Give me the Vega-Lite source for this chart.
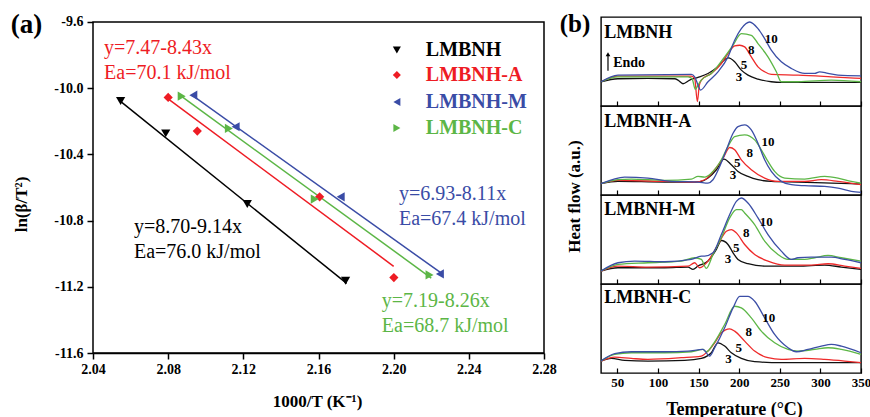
{
  "$schema": "https://vega.github.io/schema/vega-lite/v6.json",
  "padding": {"left": 10, "top": 10, "right": 0, "bottom": 0},
  "background": "white",
  "spacing": 2,
  "config": {
    "view": {"stroke": "#000000", "strokeWidth": 1.4},
    "axis": {"grid": false, "domainColor": "#000000", "tickColor": "#000000", "labelColor": "#000000", "titleColor": "#000000", "labelFont": "Liberation Serif", "titleFont": "Liberation Serif", "labelFontWeight": "bold", "titleFontWeight": "bold", "labelFlush": false, "labelOverlap": false, "labelBound": false},
    "text": {"font": "Liberation Serif"}
  },
  "datasets": {
    "box": [
      {"x": 2.04, "x2": 2.28, "y": -11.6, "y2": -9.6}
    ],
    "fits": [
      {"s": "LMBNH", "x": 2.054, "y": -10.0736}, {"s": "LMBNH", "x": 2.175, "y": -11.1795},
      {"s": "LMBNH-A", "x": 2.080, "y": -10.0644}, {"s": "LMBNH-A", "x": 2.200, "y": -11.076},
      {"s": "LMBNH-M", "x": 2.0927, "y": -10.0418}, {"s": "LMBNH-M", "x": 2.225, "y": -11.1148},
      {"s": "LMBNH-C", "x": 2.0873, "y": -10.0511}, {"s": "LMBNH-C", "x": 2.220, "y": -11.147}
    ],
    "pts": [
      {"s": "LMBNH", "x": 2.0547, "y": -10.078}, {"s": "LMBNH", "x": 2.0787, "y": -10.273}, {"s": "LMBNH", "x": 2.1221, "y": -10.70}, {"s": "LMBNH", "x": 2.1744, "y": -11.164},
      {"s": "LMBNH-A", "x": 2.080, "y": -10.056}, {"s": "LMBNH-A", "x": 2.0955, "y": -10.259}, {"s": "LMBNH-A", "x": 2.1606, "y": -10.656}, {"s": "LMBNH-A", "x": 2.2001, "y": -11.144},
      {"s": "LMBNH-M", "x": 2.0934, "y": -10.042}, {"s": "LMBNH-M", "x": 2.1159, "y": -10.233}, {"s": "LMBNH-M", "x": 2.1718, "y": -10.656}, {"s": "LMBNH-M", "x": 2.2246, "y": -11.122},
      {"s": "LMBNH-C", "x": 2.0872, "y": -10.048}, {"s": "LMBNH-C", "x": 2.1123, "y": -10.243}, {"s": "LMBNH-C", "x": 2.158, "y": -10.67}, {"s": "LMBNH-C", "x": 2.2191, "y": -11.128}
    ],
    "leg": [
      {"s": "LMBNH", "x": 2.2017, "tx": 2.2171, "y": -9.769},
      {"s": "LMBNH-A", "x": 2.2017, "tx": 2.2171, "y": -9.920},
      {"s": "LMBNH-M", "x": 2.2017, "tx": 2.2171, "y": -10.083},
      {"s": "LMBNH-C", "x": 2.2017, "tx": 2.2171, "y": -10.240}
    ],
    "ann": [
      {"s": "LMBNH-A", "x": 2.0459, "y": -9.757, "t": "y=7.47-8.43x"},
      {"s": "LMBNH-A", "x": 2.0459, "y": -9.908, "t": "Ea=70.1 kJ/mol"},
      {"s": "LMBNH", "x": 2.0618, "y": -10.837, "t": "y=8.70-9.14x"},
      {"s": "LMBNH", "x": 2.0618, "y": -10.988, "t": "Ea=76.0 kJ/mol"},
      {"s": "LMBNH-M", "x": 2.2028, "y": -10.638, "t": "y=6.93-8.11x"},
      {"s": "LMBNH-M", "x": 2.2028, "y": -10.789, "t": "Ea=67.4 kJ/mol"},
      {"s": "LMBNH-C", "x": 2.1937, "y": -11.283, "t": "y=7.19-8.26x"},
      {"s": "LMBNH-C", "x": 2.1937, "y": -11.434, "t": "Ea=68.7 kJ/mol"}
    ],
    "dsc": [
      {"panel":"LMBNH","rate":"3","T":30,"v":73},{"panel":"LMBNH","rate":"3","T":50.9,"v":82},{"panel":"LMBNH","rate":"3","T":87.8,"v":83},{"panel":"LMBNH","rate":"3","T":120.7,"v":82},{"panel":"LMBNH","rate":"3","T":124.8,"v":78},{"panel":"LMBNH","rate":"3","T":130.9,"v":67},{"panel":"LMBNH","rate":"3","T":139.1,"v":78},{"panel":"LMBNH","rate":"3","T":149.4,"v":86},{"panel":"LMBNH","rate":"3","T":161.7,"v":98},{"panel":"LMBNH","rate":"3","T":174,"v":118},{"panel":"LMBNH","rate":"3","T":184.3,"v":143},{"panel":"LMBNH","rate":"3","T":187.1,"v":145},{"panel":"LMBNH","rate":"3","T":194.5,"v":133},{"panel":"LMBNH","rate":"3","T":202.7,"v":108},{"panel":"LMBNH","rate":"3","T":210.9,"v":93},{"panel":"LMBNH","rate":"3","T":223.2,"v":81},{"panel":"LMBNH","rate":"3","T":239.6,"v":73},{"panel":"LMBNH","rate":"3","T":251.9,"v":71},{"panel":"LMBNH","rate":"3","T":300,"v":71},{"panel":"LMBNH","rate":"3","T":350,"v":71},
      {"panel":"LMBNH","rate":"5","T":30,"v":73},{"panel":"LMBNH","rate":"5","T":50.9,"v":90},{"panel":"LMBNH","rate":"5","T":100,"v":90},{"panel":"LMBNH","rate":"5","T":141.2,"v":90},{"panel":"LMBNH","rate":"5","T":145.3,"v":83},{"panel":"LMBNH","rate":"5","T":148.6,"v":13},{"panel":"LMBNH","rate":"5","T":151,"v":63},{"panel":"LMBNH","rate":"5","T":153.5,"v":78},{"panel":"LMBNH","rate":"5","T":165.8,"v":98},{"panel":"LMBNH","rate":"5","T":178.1,"v":128},{"panel":"LMBNH","rate":"5","T":186.3,"v":158},{"panel":"LMBNH","rate":"5","T":194.5,"v":181},{"panel":"LMBNH","rate":"5","T":200.7,"v":183},{"panel":"LMBNH","rate":"5","T":206.8,"v":178},{"panel":"LMBNH","rate":"5","T":215,"v":148},{"panel":"LMBNH","rate":"5","T":223.2,"v":118},{"panel":"LMBNH","rate":"5","T":231.4,"v":103},{"panel":"LMBNH","rate":"5","T":239.6,"v":95},{"panel":"LMBNH","rate":"5","T":272.5,"v":93},{"panel":"LMBNH","rate":"5","T":313.5,"v":88},{"panel":"LMBNH","rate":"5","T":350,"v":83},
      {"panel":"LMBNH","rate":"8","T":30,"v":73},{"panel":"LMBNH","rate":"8","T":50.9,"v":88},{"panel":"LMBNH","rate":"8","T":137.1,"v":88},{"panel":"LMBNH","rate":"8","T":142,"v":83},{"panel":"LMBNH","rate":"8","T":146.1,"v":50},{"panel":"LMBNH","rate":"8","T":149.4,"v":63},{"panel":"LMBNH","rate":"8","T":153.5,"v":78},{"panel":"LMBNH","rate":"8","T":165.8,"v":98},{"panel":"LMBNH","rate":"8","T":182.2,"v":148},{"panel":"LMBNH","rate":"8","T":192.5,"v":183},{"panel":"LMBNH","rate":"8","T":202.7,"v":218},{"panel":"LMBNH","rate":"8","T":215,"v":213},{"panel":"LMBNH","rate":"8","T":223.2,"v":188},{"panel":"LMBNH","rate":"8","T":235.5,"v":148},{"panel":"LMBNH","rate":"8","T":245.8,"v":103},{"panel":"LMBNH","rate":"8","T":251.9,"v":73},{"panel":"LMBNH","rate":"8","T":272.5,"v":73},{"panel":"LMBNH","rate":"8","T":313.5,"v":78},{"panel":"LMBNH","rate":"8","T":350,"v":73},
      {"panel":"LMBNH","rate":"10","T":30,"v":73},{"panel":"LMBNH","rate":"10","T":50.9,"v":93},{"panel":"LMBNH","rate":"10","T":141.2,"v":95},{"panel":"LMBNH","rate":"10","T":145.3,"v":88},{"panel":"LMBNH","rate":"10","T":149.4,"v":63},{"panel":"LMBNH","rate":"10","T":152.5,"v":48},{"panel":"LMBNH","rate":"10","T":161.7,"v":73},{"panel":"LMBNH","rate":"10","T":174,"v":103},{"panel":"LMBNH","rate":"10","T":186.3,"v":148},{"panel":"LMBNH","rate":"10","T":194.5,"v":198},{"panel":"LMBNH","rate":"10","T":202.7,"v":233},{"panel":"LMBNH","rate":"10","T":213,"v":253},{"panel":"LMBNH","rate":"10","T":223.2,"v":233},{"panel":"LMBNH","rate":"10","T":231.4,"v":203},{"panel":"LMBNH","rate":"10","T":239.6,"v":168},{"panel":"LMBNH","rate":"10","T":251.9,"v":133},{"panel":"LMBNH","rate":"10","T":264.3,"v":113},{"panel":"LMBNH","rate":"10","T":280.7,"v":98},{"panel":"LMBNH","rate":"10","T":293,"v":98},{"panel":"LMBNH","rate":"10","T":299.1,"v":103},{"panel":"LMBNH","rate":"10","T":309.4,"v":98},{"panel":"LMBNH","rate":"10","T":321.7,"v":93},{"panel":"LMBNH","rate":"10","T":350,"v":91},

      {"panel":"LMBNH-A","rate":"3","T":30,"v":34},{"panel":"LMBNH-A","rate":"3","T":50.9,"v":41},{"panel":"LMBNH-A","rate":"3","T":108.4,"v":39},{"panel":"LMBNH-A","rate":"3","T":145.3,"v":39},{"panel":"LMBNH-A","rate":"3","T":153.5,"v":41},{"panel":"LMBNH-A","rate":"3","T":161.7,"v":51},{"panel":"LMBNH-A","rate":"3","T":172,"v":76},{"panel":"LMBNH-A","rate":"3","T":181.4,"v":108},{"panel":"LMBNH-A","rate":"3","T":190.4,"v":91},{"panel":"LMBNH-A","rate":"3","T":198.6,"v":71},{"panel":"LMBNH-A","rate":"3","T":210.9,"v":56},{"panel":"LMBNH-A","rate":"3","T":223.2,"v":46},{"panel":"LMBNH-A","rate":"3","T":239.6,"v":41},{"panel":"LMBNH-A","rate":"3","T":272.5,"v":39},{"panel":"LMBNH-A","rate":"3","T":313.5,"v":36},{"panel":"LMBNH-A","rate":"3","T":350,"v":33},
      {"panel":"LMBNH-A","rate":"5","T":30,"v":34},{"panel":"LMBNH-A","rate":"5","T":50.9,"v":44},{"panel":"LMBNH-A","rate":"5","T":108.4,"v":41},{"panel":"LMBNH-A","rate":"5","T":145.3,"v":39},{"panel":"LMBNH-A","rate":"5","T":157.6,"v":46},{"panel":"LMBNH-A","rate":"5","T":169.9,"v":76},{"panel":"LMBNH-A","rate":"5","T":180.2,"v":111},{"panel":"LMBNH-A","rate":"5","T":188.4,"v":143},{"panel":"LMBNH-A","rate":"5","T":194.5,"v":136},{"panel":"LMBNH-A","rate":"5","T":202.7,"v":106},{"panel":"LMBNH-A","rate":"5","T":215,"v":76},{"panel":"LMBNH-A","rate":"5","T":231.4,"v":51},{"panel":"LMBNH-A","rate":"5","T":247.8,"v":41},{"panel":"LMBNH-A","rate":"5","T":280.7,"v":41},{"panel":"LMBNH-A","rate":"5","T":301.2,"v":46},{"panel":"LMBNH-A","rate":"5","T":321.7,"v":41},{"panel":"LMBNH-A","rate":"5","T":350,"v":31},
      {"panel":"LMBNH-A","rate":"8","T":30,"v":34},{"panel":"LMBNH-A","rate":"8","T":50.9,"v":46},{"panel":"LMBNH-A","rate":"8","T":67.3,"v":48},{"panel":"LMBNH-A","rate":"8","T":108.4,"v":44},{"panel":"LMBNH-A","rate":"8","T":141.2,"v":48},{"panel":"LMBNH-A","rate":"8","T":149.4,"v":56},{"panel":"LMBNH-A","rate":"8","T":157.6,"v":54},{"panel":"LMBNH-A","rate":"8","T":165.8,"v":66},{"panel":"LMBNH-A","rate":"8","T":178.1,"v":106},{"panel":"LMBNH-A","rate":"8","T":186.3,"v":146},{"panel":"LMBNH-A","rate":"8","T":194.5,"v":176},{"panel":"LMBNH-A","rate":"8","T":206.8,"v":181},{"panel":"LMBNH-A","rate":"8","T":219.1,"v":166},{"panel":"LMBNH-A","rate":"8","T":227.3,"v":136},{"panel":"LMBNH-A","rate":"8","T":235.5,"v":101},{"panel":"LMBNH-A","rate":"8","T":243.7,"v":71},{"panel":"LMBNH-A","rate":"8","T":256.1,"v":51},{"panel":"LMBNH-A","rate":"8","T":280.7,"v":48},{"panel":"LMBNH-A","rate":"8","T":305.3,"v":56},{"panel":"LMBNH-A","rate":"8","T":321.7,"v":51},{"panel":"LMBNH-A","rate":"8","T":338.1,"v":41},{"panel":"LMBNH-A","rate":"8","T":350,"v":36},
      {"panel":"LMBNH-A","rate":"10","T":30,"v":34},{"panel":"LMBNH-A","rate":"10","T":59.1,"v":54},{"panel":"LMBNH-A","rate":"10","T":87.8,"v":51},{"panel":"LMBNH-A","rate":"10","T":116.6,"v":41},{"panel":"LMBNH-A","rate":"10","T":149.4,"v":39},{"panel":"LMBNH-A","rate":"10","T":161.7,"v":36},{"panel":"LMBNH-A","rate":"10","T":167.8,"v":46},{"panel":"LMBNH-A","rate":"10","T":176.1,"v":86},{"panel":"LMBNH-A","rate":"10","T":184.3,"v":136},{"panel":"LMBNH-A","rate":"10","T":192.5,"v":186},{"panel":"LMBNH-A","rate":"10","T":198.6,"v":206},{"panel":"LMBNH-A","rate":"10","T":206.8,"v":211},{"panel":"LMBNH-A","rate":"10","T":215,"v":196},{"panel":"LMBNH-A","rate":"10","T":223.2,"v":156},{"panel":"LMBNH-A","rate":"10","T":231.4,"v":106},{"panel":"LMBNH-A","rate":"10","T":239.6,"v":71},{"panel":"LMBNH-A","rate":"10","T":251.9,"v":41},{"panel":"LMBNH-A","rate":"10","T":264.3,"v":31},{"panel":"LMBNH-A","rate":"10","T":280.7,"v":28},{"panel":"LMBNH-A","rate":"10","T":305.3,"v":26},{"panel":"LMBNH-A","rate":"10","T":321.7,"v":21},{"panel":"LMBNH-A","rate":"10","T":338.1,"v":11},{"panel":"LMBNH-A","rate":"10","T":350,"v":8},

      {"panel":"LMBNH-M","rate":"3","T":30,"v":39},{"panel":"LMBNH-M","rate":"3","T":50.9,"v":49},{"panel":"LMBNH-M","rate":"3","T":108.4,"v":49},{"panel":"LMBNH-M","rate":"3","T":137.1,"v":51},{"panel":"LMBNH-M","rate":"3","T":143.2,"v":44},{"panel":"LMBNH-M","rate":"3","T":149.4,"v":54},{"panel":"LMBNH-M","rate":"3","T":161.7,"v":69},{"panel":"LMBNH-M","rate":"3","T":172,"v":104},{"panel":"LMBNH-M","rate":"3","T":178.1,"v":131},{"panel":"LMBNH-M","rate":"3","T":186.3,"v":119},{"panel":"LMBNH-M","rate":"3","T":192.5,"v":94},{"panel":"LMBNH-M","rate":"3","T":198.6,"v":74},{"panel":"LMBNH-M","rate":"3","T":210.9,"v":61},{"panel":"LMBNH-M","rate":"3","T":231.4,"v":54},{"panel":"LMBNH-M","rate":"3","T":272.5,"v":54},{"panel":"LMBNH-M","rate":"3","T":305.3,"v":57},{"panel":"LMBNH-M","rate":"3","T":325.8,"v":51},{"panel":"LMBNH-M","rate":"3","T":350,"v":44},
      {"panel":"LMBNH-M","rate":"5","T":30,"v":39},{"panel":"LMBNH-M","rate":"5","T":50.9,"v":54},{"panel":"LMBNH-M","rate":"5","T":87.8,"v":51},{"panel":"LMBNH-M","rate":"5","T":137.1,"v":54},{"panel":"LMBNH-M","rate":"5","T":145.3,"v":64},{"panel":"LMBNH-M","rate":"5","T":151.4,"v":49},{"panel":"LMBNH-M","rate":"5","T":161.7,"v":69},{"panel":"LMBNH-M","rate":"5","T":174,"v":119},{"panel":"LMBNH-M","rate":"5","T":184.3,"v":159},{"panel":"LMBNH-M","rate":"5","T":190.4,"v":164},{"panel":"LMBNH-M","rate":"5","T":196.6,"v":154},{"panel":"LMBNH-M","rate":"5","T":206.8,"v":119},{"panel":"LMBNH-M","rate":"5","T":219.1,"v":89},{"panel":"LMBNH-M","rate":"5","T":235.5,"v":69},{"panel":"LMBNH-M","rate":"5","T":256.1,"v":57},{"panel":"LMBNH-M","rate":"5","T":288.9,"v":57},{"panel":"LMBNH-M","rate":"5","T":309.4,"v":61},{"panel":"LMBNH-M","rate":"5","T":329.9,"v":54},{"panel":"LMBNH-M","rate":"5","T":350,"v":47},
      {"panel":"LMBNH-M","rate":"8","T":30,"v":39},{"panel":"LMBNH-M","rate":"8","T":50.9,"v":59},{"panel":"LMBNH-M","rate":"8","T":87.8,"v":64},{"panel":"LMBNH-M","rate":"8","T":128.9,"v":69},{"panel":"LMBNH-M","rate":"8","T":145.3,"v":79},{"panel":"LMBNH-M","rate":"8","T":153.5,"v":74},{"panel":"LMBNH-M","rate":"8","T":159.6,"v":47},{"panel":"LMBNH-M","rate":"8","T":167.8,"v":89},{"panel":"LMBNH-M","rate":"8","T":178.1,"v":139},{"panel":"LMBNH-M","rate":"8","T":188.4,"v":199},{"panel":"LMBNH-M","rate":"8","T":196.6,"v":224},{"panel":"LMBNH-M","rate":"8","T":202.7,"v":224},{"panel":"LMBNH-M","rate":"8","T":206.8,"v":214},{"panel":"LMBNH-M","rate":"8","T":219.1,"v":179},{"panel":"LMBNH-M","rate":"8","T":231.4,"v":129},{"panel":"LMBNH-M","rate":"8","T":247.8,"v":89},{"panel":"LMBNH-M","rate":"8","T":260.2,"v":74},{"panel":"LMBNH-M","rate":"8","T":280.7,"v":74},{"panel":"LMBNH-M","rate":"8","T":293,"v":79},{"panel":"LMBNH-M","rate":"8","T":309.4,"v":86},{"panel":"LMBNH-M","rate":"8","T":325.8,"v":79},{"panel":"LMBNH-M","rate":"8","T":350,"v":69},
      {"panel":"LMBNH-M","rate":"10","T":30,"v":39},{"panel":"LMBNH-M","rate":"10","T":50.9,"v":64},{"panel":"LMBNH-M","rate":"10","T":71.4,"v":69},{"panel":"LMBNH-M","rate":"10","T":108.4,"v":67},{"panel":"LMBNH-M","rate":"10","T":141.2,"v":74},{"panel":"LMBNH-M","rate":"10","T":153.5,"v":84},{"panel":"LMBNH-M","rate":"10","T":157.6,"v":84},{"panel":"LMBNH-M","rate":"10","T":167.8,"v":94},{"panel":"LMBNH-M","rate":"10","T":178.1,"v":149},{"panel":"LMBNH-M","rate":"10","T":188.4,"v":209},{"panel":"LMBNH-M","rate":"10","T":196.6,"v":249},{"panel":"LMBNH-M","rate":"10","T":202.7,"v":259},{"panel":"LMBNH-M","rate":"10","T":210.9,"v":244},{"panel":"LMBNH-M","rate":"10","T":223.2,"v":199},{"panel":"LMBNH-M","rate":"10","T":235.5,"v":149},{"panel":"LMBNH-M","rate":"10","T":251.9,"v":99},{"panel":"LMBNH-M","rate":"10","T":264.3,"v":74},{"panel":"LMBNH-M","rate":"10","T":272.5,"v":79},{"panel":"LMBNH-M","rate":"10","T":288.9,"v":81},{"panel":"LMBNH-M","rate":"10","T":313.5,"v":81},{"panel":"LMBNH-M","rate":"10","T":329.9,"v":74},{"panel":"LMBNH-M","rate":"10","T":350,"v":64},

      {"panel":"LMBNH-C","rate":"3","T":30,"v":36},{"panel":"LMBNH-C","rate":"3","T":42.7,"v":44},{"panel":"LMBNH-C","rate":"3","T":59.1,"v":38},{"panel":"LMBNH-C","rate":"3","T":87.8,"v":36},{"panel":"LMBNH-C","rate":"3","T":133,"v":38},{"panel":"LMBNH-C","rate":"3","T":153.5,"v":44},{"panel":"LMBNH-C","rate":"3","T":165.8,"v":61},{"panel":"LMBNH-C","rate":"3","T":174,"v":91},{"panel":"LMBNH-C","rate":"3","T":182.2,"v":81},{"panel":"LMBNH-C","rate":"3","T":190.4,"v":61},{"panel":"LMBNH-C","rate":"3","T":202.7,"v":44},{"panel":"LMBNH-C","rate":"3","T":219.1,"v":34},{"panel":"LMBNH-C","rate":"3","T":251.9,"v":31},{"panel":"LMBNH-C","rate":"3","T":313.5,"v":31},{"panel":"LMBNH-C","rate":"3","T":350,"v":31},
      {"panel":"LMBNH-C","rate":"5","T":30,"v":36},{"panel":"LMBNH-C","rate":"5","T":46.8,"v":48},{"panel":"LMBNH-C","rate":"5","T":67.3,"v":44},{"panel":"LMBNH-C","rate":"5","T":87.8,"v":41},{"panel":"LMBNH-C","rate":"5","T":128.9,"v":46},{"panel":"LMBNH-C","rate":"5","T":153.5,"v":51},{"panel":"LMBNH-C","rate":"5","T":161.7,"v":66},{"panel":"LMBNH-C","rate":"5","T":169.9,"v":91},{"panel":"LMBNH-C","rate":"5","T":178.1,"v":121},{"panel":"LMBNH-C","rate":"5","T":188.4,"v":133},{"panel":"LMBNH-C","rate":"5","T":194.5,"v":126},{"panel":"LMBNH-C","rate":"5","T":206.8,"v":96},{"panel":"LMBNH-C","rate":"5","T":219.1,"v":66},{"panel":"LMBNH-C","rate":"5","T":235.5,"v":46},{"panel":"LMBNH-C","rate":"5","T":251.9,"v":41},{"panel":"LMBNH-C","rate":"5","T":280.7,"v":44},{"panel":"LMBNH-C","rate":"5","T":305.3,"v":41},{"panel":"LMBNH-C","rate":"5","T":329.9,"v":36},{"panel":"LMBNH-C","rate":"5","T":350,"v":31},
      {"panel":"LMBNH-C","rate":"8","T":30,"v":36},{"panel":"LMBNH-C","rate":"8","T":46.8,"v":56},{"panel":"LMBNH-C","rate":"8","T":67.3,"v":61},{"panel":"LMBNH-C","rate":"8","T":108.4,"v":61},{"panel":"LMBNH-C","rate":"8","T":141.2,"v":64},{"panel":"LMBNH-C","rate":"8","T":155.5,"v":71},{"panel":"LMBNH-C","rate":"8","T":159.6,"v":64},{"panel":"LMBNH-C","rate":"8","T":167.8,"v":86},{"panel":"LMBNH-C","rate":"8","T":182.2,"v":146},{"panel":"LMBNH-C","rate":"8","T":194.5,"v":201},{"panel":"LMBNH-C","rate":"8","T":202.7,"v":196},{"panel":"LMBNH-C","rate":"8","T":215,"v":166},{"panel":"LMBNH-C","rate":"8","T":227.3,"v":126},{"panel":"LMBNH-C","rate":"8","T":243.7,"v":91},{"panel":"LMBNH-C","rate":"8","T":260.2,"v":71},{"panel":"LMBNH-C","rate":"8","T":272.5,"v":66},{"panel":"LMBNH-C","rate":"8","T":293,"v":71},{"panel":"LMBNH-C","rate":"8","T":309.4,"v":76},{"panel":"LMBNH-C","rate":"8","T":325.8,"v":71},{"panel":"LMBNH-C","rate":"8","T":350,"v":56},
      {"panel":"LMBNH-C","rate":"10","T":30,"v":36},{"panel":"LMBNH-C","rate":"10","T":46.8,"v":58},{"panel":"LMBNH-C","rate":"10","T":67.3,"v":64},{"panel":"LMBNH-C","rate":"10","T":108.4,"v":64},{"panel":"LMBNH-C","rate":"10","T":137.1,"v":66},{"panel":"LMBNH-C","rate":"10","T":155.5,"v":71},{"panel":"LMBNH-C","rate":"10","T":163.7,"v":51},{"panel":"LMBNH-C","rate":"10","T":169.9,"v":76},{"panel":"LMBNH-C","rate":"10","T":182.2,"v":136},{"panel":"LMBNH-C","rate":"10","T":192.5,"v":196},{"panel":"LMBNH-C","rate":"10","T":200.7,"v":231},{"panel":"LMBNH-C","rate":"10","T":210.9,"v":231},{"panel":"LMBNH-C","rate":"10","T":219.1,"v":216},{"panel":"LMBNH-C","rate":"10","T":231.4,"v":166},{"panel":"LMBNH-C","rate":"10","T":243.7,"v":116},{"panel":"LMBNH-C","rate":"10","T":260.2,"v":76},{"panel":"LMBNH-C","rate":"10","T":270.4,"v":64},{"panel":"LMBNH-C","rate":"10","T":284.8,"v":71},{"panel":"LMBNH-C","rate":"10","T":301.2,"v":81},{"panel":"LMBNH-C","rate":"10","T":313.5,"v":86},{"panel":"LMBNH-C","rate":"10","T":325.8,"v":81},{"panel":"LMBNH-C","rate":"10","T":350,"v":61}
    ],
    "nums": [
      {"panel":"LMBNH","t":"10","T":239.6,"v":203},{"panel":"LMBNH","t":"8","T":215,"v":168},{"panel":"LMBNH","t":"5","T":206,"v":123},{"panel":"LMBNH","t":"3","T":199.8,"v":88},
      {"panel":"LMBNH-A","t":"10","T":235.5,"v":161},{"panel":"LMBNH-A","t":"8","T":213,"v":126},{"panel":"LMBNH-A","t":"5","T":197.8,"v":96},{"panel":"LMBNH-A","t":"3","T":192.5,"v":61},
      {"panel":"LMBNH-M","t":"10","T":233.5,"v":187},{"panel":"LMBNH-M","t":"8","T":208.9,"v":154},{"panel":"LMBNH-M","t":"5","T":196.6,"v":109},{"panel":"LMBNH-M","t":"3","T":186.3,"v":74},
      {"panel":"LMBNH-C","t":"10","T":236.4,"v":166},{"panel":"LMBNH-C","t":"8","T":211.7,"v":124},{"panel":"LMBNH-C","t":"5","T":199.4,"v":76},{"panel":"LMBNH-C","t":"3","T":187,"v":41}
    ],
    "titles": [
      {"panel":"LMBNH","t":"LMBNH","T":34,"v":221},
      {"panel":"LMBNH-A","t":"LMBNH-A","T":34,"v":221},
      {"panel":"LMBNH-M","t":"LMBNH-M","T":34,"v":224},
      {"panel":"LMBNH-C","t":"LMBNH-C","T":34,"v":226}
    ]
  },
  "hconcat": [
    {
      "width": 451,
      "height": 336,
      "view": {"stroke": "transparent"},
      "layer": [
        {
          "data": {"name": "fits"},
          "mark": {"type": "line", "strokeWidth": 1.5},
          "encoding": {
            "x": {"field": "x", "type": "quantitative", "scale": {"domain": [2.04, 2.28], "nice": false, "zero": false},
              "axis": {"values": [2.04, 2.06, 2.08, 2.10, 2.12, 2.14, 2.16, 2.18, 2.20, 2.22, 2.24, 2.26, 2.28],
                "labelExpr": "round(datum.value*100) % 4 == 0 ? format(datum.value, '.2f') : ''",
                "tickSize": {"condition": {"test": "round(datum.value*100) % 4 == 0", "value": 6}, "value": 4},
                "tickWidth": 1.5, "domainWidth": 1.5, "labelFontSize": 14, "labelPadding": 3,
                "title": "1000/T (K⁻¹)", "titleFontSize": 17, "titleX": 224, "titleY": 48, "titleBaseline": "middle", "titleAlign": "center"}},
            "y": {"field": "y", "type": "quantitative", "scale": {"domain": [-11.6, -9.5698], "nice": false, "zero": false},
              "axis": {"values": [-11.6, -11.4, -11.2, -11.0, -10.8, -10.6, -10.4, -10.2, -10.0, -9.8, -9.6],
                "labelExpr": "round(datum.value*10) % 4 == 0 ? replace(format(datum.value, '.1f'), '−', '-') : ''",
                "tickSize": {"condition": {"test": "round(datum.value*10) % 4 == 0", "value": 6}, "value": 4},
                "tickWidth": 1.5, "domain": false, "labelFontSize": 14, "labelPadding": 4,
                "title": "ln(β/T²)", "titleFontSize": 17, "titleX": -72, "titleY": 187, "titleAngle": -90, "titleBaseline": "middle", "titleAlign": "center"}},
            "color": {"field": "s", "type": "nominal", "scale": {"domain": ["LMBNH", "LMBNH-A", "LMBNH-M", "LMBNH-C", "3", "5", "8", "10"], "range": ["#000000", "#ee1c24", "#3a4ca6", "#5cb646", "#111111", "#ee2a2a", "#5cb646", "#3b4ea6"]}, "legend": null},
            "detail": {"field": "s"}
          }
        },
        {
          "data": {"name": "pts"},
          "mark": {"type": "point", "filled": true, "size": 85, "opacity": 1},
          "encoding": {
            "x": {"field": "x", "type": "quantitative"},
            "y": {"field": "y", "type": "quantitative"},
            "color": {"field": "s", "type": "nominal", "legend": null},
            "shape": {"field": "s", "type": "nominal", "scale": {"domain": ["LMBNH", "LMBNH-A", "LMBNH-M", "LMBNH-C"], "range": ["triangle-down", "diamond", "triangle-left", "triangle-right"]}, "legend": null}
          }
        },
        {
          "data": {"name": "leg"},
          "mark": {"type": "point", "filled": true, "size": 65, "opacity": 1},
          "encoding": {
            "x": {"field": "x", "type": "quantitative"},
            "y": {"field": "y", "type": "quantitative"},
            "color": {"field": "s", "type": "nominal", "legend": null},
            "shape": {"field": "s", "type": "nominal", "legend": null}
          }
        },
        {
          "data": {"name": "leg"},
          "mark": {"type": "text", "align": "left", "baseline": "middle", "fontSize": 20, "fontWeight": "bold"},
          "encoding": {
            "x": {"field": "tx", "type": "quantitative"},
            "y": {"field": "y", "type": "quantitative"},
            "text": {"field": "s"},
            "color": {"field": "s", "type": "nominal", "legend": null}
          }
        },
        {
          "data": {"name": "ann"},
          "mark": {"type": "text", "align": "left", "baseline": "middle", "fontSize": 20},
          "encoding": {
            "x": {"field": "x", "type": "quantitative"},
            "y": {"field": "y", "type": "quantitative"},
            "text": {"field": "t"},
            "color": {"field": "s", "type": "nominal", "legend": null}
          }
        },
        {
          "data": {"values": [{"x": 2.0046, "y": -9.618, "t": "(a)"}]},
          "mark": {"type": "text", "align": "center", "baseline": "middle", "fontSize": 27, "fontWeight": "bold", "color": "#000000"},
          "encoding": {
            "x": {"field": "x", "type": "quantitative"},
            "y": {"field": "y", "type": "quantitative"},
            "text": {"field": "t"}
          }
        },
        {
          "data": {"name": "box"},
          "mark": {"type": "rect", "fill": "transparent", "fillOpacity": 0, "stroke": "#000000", "strokeWidth": 1.5},
          "encoding": {
            "x": {"field": "x", "type": "quantitative"},
            "x2": {"field": "x2"},
            "y": {"field": "y", "type": "quantitative"},
            "y2": {"field": "y2"}
          }
        }
      ]
    },
    {
      "bounds": "flush",
      "spacing": 0,
      "vconcat": [
        {
          "width": 260, "height": 89,
          "layer": [
            {
              "data": {"name": "dsc"},
              "transform": [{"filter": "datum.panel == 'LMBNH'"}],
              "mark": {"type": "line", "strokeWidth": 1.3, "interpolate": "monotone"},
              "encoding": {
                "x": {"field": "T", "type": "quantitative", "scale": {"domain": [30, 350], "nice": false, "zero": false},
                  "axis": {"values": [50, 75, 100, 125, 150, 175, 200, 225, 250, 275, 300, 325, 350], "labels": false, "title": null, "domain": false, "tickWidth": 1.2,
                    "tickSize": {"condition": {"test": "datum.value % 50 == 0", "value": -5}, "value": -3}}},
                "y": {"field": "v", "type": "quantitative", "scale": {"domain": [0, 268], "nice": false, "zero": false}, "axis": null},
                "color": {"field": "rate", "type": "nominal", "scale": {"domain": ["LMBNH", "LMBNH-A", "LMBNH-M", "LMBNH-C", "3", "5", "8", "10"], "range": ["#000000", "#ee1c24", "#3a4ca6", "#5cb646", "#111111", "#ee2a2a", "#5cb646", "#3b4ea6"]}, "legend": null}
              }
            },
            {
              "data": {"name": "nums"},
              "transform": [{"filter": "datum.panel == 'LMBNH'"}],
              "mark": {"type": "text", "align": "center", "baseline": "middle", "fontSize": 13, "fontWeight": "bold", "color": "#000000"},
              "encoding": {"x": {"field": "T", "type": "quantitative"}, "y": {"field": "v", "type": "quantitative"}, "text": {"field": "t"}}
            },
            {
              "data": {"name": "titles"},
              "transform": [{"filter": "datum.panel == 'LMBNH'"}],
              "mark": {"type": "text", "align": "left", "baseline": "middle", "fontSize": 18, "fontWeight": "bold", "color": "#000000"},
              "encoding": {"x": {"field": "T", "type": "quantitative"}, "y": {"field": "v", "type": "quantitative"}, "text": {"field": "t"}}
            },
            {
              "data": {"values": [{"T": -2, "v": 248, "t": "(b)"}]},
              "mark": {"type": "text", "align": "center", "baseline": "middle", "fontSize": 25, "fontWeight": "bold", "color": "#000000"},
              "encoding": {"x": {"field": "T", "type": "quantitative"}, "y": {"field": "v", "type": "quantitative"}, "text": {"field": "t"}}
            },
            {
              "data": {"values": [{"T": 38.6, "v1": 106, "v2": 152}]},
              "mark": {"type": "rule", "strokeWidth": 1.2, "color": "#000000"},
              "encoding": {"x": {"field": "T", "type": "quantitative"}, "y": {"field": "v1", "type": "quantitative"}, "y2": {"field": "v2"}}
            },
            {
              "data": {"values": [{"T": 38.6, "v": 156}]},
              "mark": {"type": "point", "shape": "triangle-up", "filled": true, "size": 22, "color": "#000000", "opacity": 1},
              "encoding": {"x": {"field": "T", "type": "quantitative"}, "y": {"field": "v", "type": "quantitative"}}
            },
            {
              "data": {"values": [{"T": 45, "v": 128, "t": "Endo"}]},
              "mark": {"type": "text", "align": "left", "baseline": "middle", "fontSize": 14, "fontWeight": "bold", "color": "#000000"},
              "encoding": {"x": {"field": "T", "type": "quantitative"}, "y": {"field": "v", "type": "quantitative"}, "text": {"field": "t"}}
            }
          ]
        },
        {
          "width": 260, "height": 89,
          "layer": [
            {
              "data": {"name": "dsc"},
              "transform": [{"filter": "datum.panel == 'LMBNH-A'"}],
              "mark": {"type": "line", "strokeWidth": 1.3, "interpolate": "monotone"},
              "encoding": {
                "x": {"field": "T", "type": "quantitative", "scale": {"domain": [30, 350], "nice": false, "zero": false},
                  "axis": {"values": [50, 75, 100, 125, 150, 175, 200, 225, 250, 275, 300, 325, 350], "labels": false, "title": null, "domain": false, "tickWidth": 1.2,
                    "tickSize": {"condition": {"test": "datum.value % 50 == 0", "value": -5}, "value": -3}}},
                "y": {"field": "v", "type": "quantitative", "scale": {"domain": [0, 268], "nice": false, "zero": false},
                  "axis": {"labels": false, "ticks": false, "domain": false, "title": "Heat flow (a.u.)", "titleFontSize": 17, "titleX": -27, "titleY": 90, "titleAngle": -90, "titleBaseline": "middle", "titleAlign": "center"}},
                "color": {"field": "rate", "type": "nominal", "scale": {"domain": ["LMBNH", "LMBNH-A", "LMBNH-M", "LMBNH-C", "3", "5", "8", "10"], "range": ["#000000", "#ee1c24", "#3a4ca6", "#5cb646", "#111111", "#ee2a2a", "#5cb646", "#3b4ea6"]}, "legend": null}
              }
            },
            {
              "data": {"name": "nums"},
              "transform": [{"filter": "datum.panel == 'LMBNH-A'"}],
              "mark": {"type": "text", "align": "center", "baseline": "middle", "fontSize": 13, "fontWeight": "bold", "color": "#000000"},
              "encoding": {"x": {"field": "T", "type": "quantitative"}, "y": {"field": "v", "type": "quantitative"}, "text": {"field": "t"}}
            },
            {
              "data": {"name": "titles"},
              "transform": [{"filter": "datum.panel == 'LMBNH-A'"}],
              "mark": {"type": "text", "align": "left", "baseline": "middle", "fontSize": 18, "fontWeight": "bold", "color": "#000000"},
              "encoding": {"x": {"field": "T", "type": "quantitative"}, "y": {"field": "v", "type": "quantitative"}, "text": {"field": "t"}}
            }
          ]
        },
        {
          "width": 260, "height": 89,
          "layer": [
            {
              "data": {"name": "dsc"},
              "transform": [{"filter": "datum.panel == 'LMBNH-M'"}],
              "mark": {"type": "line", "strokeWidth": 1.3, "interpolate": "monotone"},
              "encoding": {
                "x": {"field": "T", "type": "quantitative", "scale": {"domain": [30, 350], "nice": false, "zero": false},
                  "axis": {"values": [50, 75, 100, 125, 150, 175, 200, 225, 250, 275, 300, 325, 350], "labels": false, "title": null, "domain": false, "tickWidth": 1.2,
                    "tickSize": {"condition": {"test": "datum.value % 50 == 0", "value": -5}, "value": -3}}},
                "y": {"field": "v", "type": "quantitative", "scale": {"domain": [0, 268], "nice": false, "zero": false}, "axis": null},
                "color": {"field": "rate", "type": "nominal", "scale": {"domain": ["LMBNH", "LMBNH-A", "LMBNH-M", "LMBNH-C", "3", "5", "8", "10"], "range": ["#000000", "#ee1c24", "#3a4ca6", "#5cb646", "#111111", "#ee2a2a", "#5cb646", "#3b4ea6"]}, "legend": null}
              }
            },
            {
              "data": {"name": "nums"},
              "transform": [{"filter": "datum.panel == 'LMBNH-M'"}],
              "mark": {"type": "text", "align": "center", "baseline": "middle", "fontSize": 13, "fontWeight": "bold", "color": "#000000"},
              "encoding": {"x": {"field": "T", "type": "quantitative"}, "y": {"field": "v", "type": "quantitative"}, "text": {"field": "t"}}
            },
            {
              "data": {"name": "titles"},
              "transform": [{"filter": "datum.panel == 'LMBNH-M'"}],
              "mark": {"type": "text", "align": "left", "baseline": "middle", "fontSize": 18, "fontWeight": "bold", "color": "#000000"},
              "encoding": {"x": {"field": "T", "type": "quantitative"}, "y": {"field": "v", "type": "quantitative"}, "text": {"field": "t"}}
            }
          ]
        },
        {
          "width": 260, "height": 89,
          "layer": [
            {
              "data": {"name": "dsc"},
              "transform": [{"filter": "datum.panel == 'LMBNH-C'"}],
              "mark": {"type": "line", "strokeWidth": 1.3, "interpolate": "monotone"},
              "encoding": {
                "x": {"field": "T", "type": "quantitative", "scale": {"domain": [30, 350], "nice": false, "zero": false},
                  "axis": {"values": [50, 75, 100, 125, 150, 175, 200, 225, 250, 275, 300, 325, 350], "labelExpr": "datum.value % 50 == 0 ? datum.label : ''", "labelFontSize": 13, "labelPadding": 8, "domain": false, "tickWidth": 1.2,
                    "tickSize": {"condition": {"test": "datum.value % 50 == 0", "value": -5}, "value": -3},
                    "title": "Temperature (°C)", "titleFontSize": 18, "titleX": 133, "titleY": 36, "titleBaseline": "middle", "titleAlign": "center"}},
                "y": {"field": "v", "type": "quantitative", "scale": {"domain": [0, 268], "nice": false, "zero": false}, "axis": null},
                "color": {"field": "rate", "type": "nominal", "scale": {"domain": ["LMBNH", "LMBNH-A", "LMBNH-M", "LMBNH-C", "3", "5", "8", "10"], "range": ["#000000", "#ee1c24", "#3a4ca6", "#5cb646", "#111111", "#ee2a2a", "#5cb646", "#3b4ea6"]}, "legend": null}
              }
            },
            {
              "data": {"name": "nums"},
              "transform": [{"filter": "datum.panel == 'LMBNH-C'"}],
              "mark": {"type": "text", "align": "center", "baseline": "middle", "fontSize": 13, "fontWeight": "bold", "color": "#000000"},
              "encoding": {"x": {"field": "T", "type": "quantitative"}, "y": {"field": "v", "type": "quantitative"}, "text": {"field": "t"}}
            },
            {
              "data": {"name": "titles"},
              "transform": [{"filter": "datum.panel == 'LMBNH-C'"}],
              "mark": {"type": "text", "align": "left", "baseline": "middle", "fontSize": 18, "fontWeight": "bold", "color": "#000000"},
              "encoding": {"x": {"field": "T", "type": "quantitative"}, "y": {"field": "v", "type": "quantitative"}, "text": {"field": "t"}}
            }
          ]
        }
      ]
    }
  ]
}
